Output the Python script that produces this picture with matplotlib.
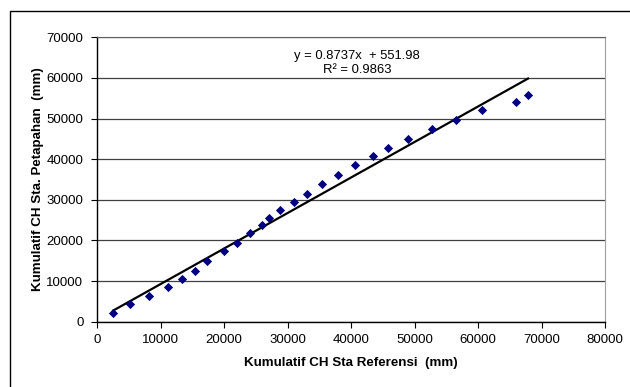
import matplotlib
matplotlib.use("Agg")
import matplotlib.pyplot as plt
import numpy as np
from matplotlib.patches import Rectangle

x_ref = [2520, 5200, 8140, 11180, 13390, 15430, 17220, 20000, 21950, 24050,
         25940, 27040, 28770, 31020, 33070, 35430, 37910, 40630, 43370, 45730,
         48980, 52760, 56600, 60580, 65980, 67870]
y_pet = [2070, 4290, 6400, 8550, 10440, 12490, 14880, 17340, 19310, 21770,
         23900, 25470, 27510, 29400, 31380, 33840, 36060, 38670, 40810, 42860,
         44920, 47540, 49680, 52070, 54040, 55680]
slope = 0.8737
intercept = 551.98
r2 = 0.9863
x_ticks = [0, 10000, 20000, 30000, 40000, 50000, 60000, 70000, 80000]
y_ticks = [0, 10000, 20000, 30000, 40000, 50000, 60000, 70000]

plt.rcParams['font.family'] = ['Liberation Sans', 'DejaVu Sans']
W, H = 630, 387
fig = plt.figure(figsize=(W/100, H/100), dpi=100)
fig.patch.set_facecolor('white')

# outer chart border (cropped at right/bottom)
fig.add_artist(Rectangle((9.5/W, -0.1), 2, 1.1 - 11/H, transform=fig.transFigure,
                         fill=False, edgecolor='black', linewidth=1.0))

left, right, top, bottom = 97.3, 605, 37.3, 321.7
ax = fig.add_axes([left/W, 1 - bottom/H, (right-left)/W, (bottom-top)/H])

ax.scatter(x_ref, y_pet, marker='D', s=22, color='#000080', zorder=3, linewidths=0)
xl = np.array([min(x_ref), max(x_ref)])
ax.plot(xl, slope*xl + intercept, color='black', linewidth=1.6, zorder=2)

ax.set_xlim(0, 80000)
ax.set_ylim(0, 70000)
ax.set_xticks(x_ticks)
ax.set_yticks(y_ticks)
ax.set_xticklabels([str(v) for v in x_ticks])
ax.set_yticklabels([str(v) for v in y_ticks])
ax.tick_params(axis='both', direction='out', length=4, width=0.8, labelsize=9.5, colors='black')
ax.tick_params(axis='x', pad=4.5)
ax.tick_params(axis='y', pad=6)
ax.yaxis.grid(True, color='#404040', linewidth=0.9)
ax.set_axisbelow(True)
for s in ['left', 'bottom']:
    ax.spines[s].set_color('black')
    ax.spines[s].set_linewidth(1.0)
ax.spines['right'].set_color('#a0a0a0')
ax.spines['top'].set_color('#606060')

ax.set_xlabel('Kumulatif CH Sta Referensi  (mm)', fontsize=9.6, fontweight='bold', labelpad=8)
ax.set_ylabel('Kumulatif CH Sta. Petapahan  (mm)', fontsize=9.6, fontweight='bold', labelpad=2)

ax.text(357/W, 1 - 55.5/H, f'y = {slope}x  + {intercept}', transform=fig.transFigure,
        ha='center', va='center', fontsize=9.4)
ax.text(357/W, 1 - 70/H, f'R² = {r2}', transform=fig.transFigure,
        ha='center', va='center', fontsize=9.4)

fig.savefig('out.png', dpi=100)
